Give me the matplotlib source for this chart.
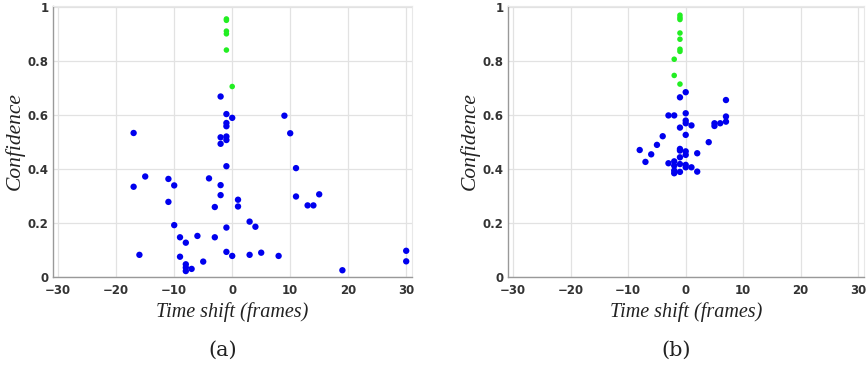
import matplotlib
matplotlib.use("Agg")
import matplotlib.pyplot as plt

# Panel (a)
a_green_x = [-1, -1, -1, -1, -1, 0]
a_green_y = [0.955, 0.95, 0.91, 0.90, 0.84, 0.705]
a_blue_x = [-2, -1, 0, -1, -1, -2, -1, -1, -2, -1, -17, -17, -15, -16, -11, -10, -11, -10,
            -9, -9, -8, -8, -8, -8, -7, -6, -5, -4, -3, -3, -2, -2, -1, -1, 0, 1, 1, 3, 4,
            3, 5, 8, 9, 10, 11, 11, 13, 14, 15, 19, 30, 30]
a_blue_y = [0.668, 0.603, 0.589, 0.570, 0.558, 0.517, 0.520, 0.507, 0.493, 0.41, 0.533,
            0.334, 0.372, 0.082, 0.363, 0.339, 0.278, 0.192, 0.147, 0.075, 0.127, 0.047,
            0.035, 0.022, 0.030, 0.152, 0.057, 0.365, 0.259, 0.147, 0.340, 0.303, 0.183,
            0.093, 0.078, 0.286, 0.261, 0.205, 0.186, 0.082, 0.090, 0.078, 0.597, 0.532,
            0.403, 0.298, 0.265, 0.265, 0.306, 0.025, 0.097, 0.058]

# Panel (b)
b_green_x = [-1, -1, -1, -1, -1, -1, -1, -2, -2, -1]
b_green_y = [0.969, 0.960, 0.953, 0.903, 0.880, 0.843, 0.835, 0.806, 0.746, 0.714]
b_blue_x = [0, -1, 7, -3, -2, 0, 0, 0, 1, -1, 0, -4, -5, -8, -6, -7, -1, -1, 0, 0, 2, -1,
            -3, -2, -2, -1, 0, 0, 1, -2, -2, -1, 2, 4, 5, 5, 6, 7, 7]
b_blue_y = [0.684, 0.665, 0.655, 0.598, 0.598, 0.606, 0.579, 0.569, 0.561, 0.553, 0.526,
            0.521, 0.489, 0.470, 0.454, 0.426, 0.474, 0.468, 0.465, 0.452, 0.458, 0.443,
            0.421, 0.428, 0.412, 0.418, 0.415, 0.406, 0.406, 0.394, 0.384, 0.389, 0.390,
            0.499, 0.569, 0.559, 0.569, 0.594, 0.575]

x_ticks = [-30, -20, -10, 0, 10, 20, 30]
y_ticks = [0, 0.2, 0.4, 0.6, 0.8, 1]
y_ticklabels = ["0", "0.2", "0.4", "0.6", "0.8", "1"]
x_label = "Time shift (frames)"
y_label = "Confidence"
panel_labels = ["(a)", "(b)"]

fig = plt.figure(figsize=(8.68, 3.66), dpi=100)
W, H = 868, 366
boxes = [(53, 6, 412, 277), (508, 6, 864, 277)]
data = [(a_green_x, a_green_y, a_blue_x, a_blue_y), (b_green_x, b_green_y, b_blue_x, b_blue_y)]

for (l, t, r, b), (gx, gy, bx, by), pl in zip(boxes, data, panel_labels):
    ax = fig.add_axes([l / W, 1 - b / H, (r - l) / W, (b - t) / H])
    ax.scatter(bx, by, s=21, color="#0000ee", edgecolors="none", zorder=3)
    ax.scatter(gx, gy, s=16, color="#22ee22", edgecolors="none", zorder=3)
    ax.set_xlim(-30.9, 31)
    ax.set_ylim(0, 1.003)
    ax.set_xticks(x_ticks)
    ax.set_yticks(y_ticks)
    ax.set_yticklabels(y_ticklabels)
    ax.grid(True, color="#e2e2e2", linewidth=0.9)
    ax.set_axisbelow(True)
    for s in ["top", "right"]:
        ax.spines[s].set_color("#e8e8e8")
    for s in ["left", "bottom"]:
        ax.spines[s].set_color("#999999")
        ax.spines[s].set_linewidth(1.0)
    ax.tick_params(length=0, labelsize=8.5, colors="#333333")
    ax.tick_params(axis="x", pad=5)
    ax.tick_params(axis="y", pad=3)
    for lab in ax.get_xticklabels() + ax.get_yticklabels():
        lab.set_fontweight("bold")
    ax.set_xlabel(x_label, fontsize=14.5, family="Liberation Serif", style="italic",
                  color="#222222", labelpad=4)
    ax.set_ylabel(y_label, fontsize=15.5, family="Liberation Serif", style="italic",
                  color="#222222", labelpad=2)
    cx = (l + r) / 2 - 10
    fig.text(cx / W, 1 - 350 / H, pl, ha="center", va="center", fontsize=15,
             family="DejaVu Serif", color="#222222")

fig.savefig("out.png", dpi=100)
